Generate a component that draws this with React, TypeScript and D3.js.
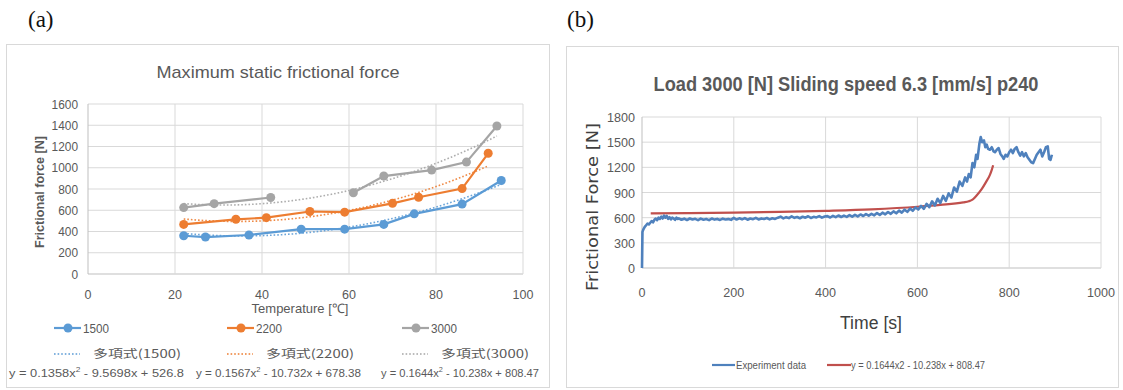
import React, { useEffect, useRef } from "react";
import * as d3 from "d3";

// ---------- panel (a) data ----------
const TEMP_1500 = [22, 27, 37, 49, 59, 68, 75, 86, 95];
const FORCE_1500 = [360, 348, 367, 422, 422, 467, 566, 658, 880];
const TEMP_2200 = [22, 34, 41, 51, 59, 70, 76, 86, 92];
const FORCE_2200 = [467, 515, 530, 588, 582, 665, 722, 804, 1136];
const TEMP_3000 = [22, 29, 42, 51, 61, 68, 79, 87, 94];
const FORCE_3000 = [625, 662, 720, null, 765, 922, 978, 1053, 1393];

// polynomial trendline coefficients as printed [x^2, x, c]
const TREND_1500 = [0.1358, -9.5698, 526.8];
const TREND_2200 = [0.1567, -10.732, 678.38];
const TREND_3000 = [0.1644, -10.238, 808.47];

const LOADS = ["1500", "2200", "3000"];
const EQUATIONS = [
  ["y = 0.1358x", " - 9.5698x + 526.8"],
  ["y = 0.1567x", " - 10.732x + 678.38"],
  ["y = 0.1644x", " - 10.238x + 808.47"],
];
const A_X_TICKS = [0, 20, 40, 60, 80, 100];
const A_Y_TICKS = [0, 200, 400, 600, 800, 1000, 1200, 1400, 1600];

// ---------- panel (b) data ----------
const EXP_TIME = [
  0, 1, 3, 6, 9, 12, 15, 18, 21, 24, 27, 30, 33, 36, 39, 42, 45, 48, 51, 54, 57, 60, 63, 66, 69, 72, 75, 78,
  80, 86, 92, 98, 104, 110, 116, 122, 128, 134, 140, 146, 152, 158, 164, 170, 176, 182, 188, 194,
  200, 206, 212, 218, 224, 230, 236, 242, 248, 254, 260, 266, 272, 278, 284, 290, 296,
  302, 308, 314, 320, 326, 332, 338, 344, 350, 356, 362, 368, 374, 380, 386, 392, 398,
  404, 410, 416, 422, 428, 434, 440, 446, 452, 458, 464, 470, 476, 482, 488, 494, 500,
  506, 512, 518, 524, 530, 536, 542, 548, 554, 560, 566, 572, 578, 584, 590, 596, 602,
  608, 614, 620, 626, 632, 638, 644, 650, 656, 662, 668, 674, 680, 686, 692, 698, 704,
  708, 712, 716, 720, 724, 728, 731, 735, 738, 741, 745, 748, 751, 754, 758, 762, 766, 769, 773, 777,
  781, 785, 788, 792, 796, 800, 804, 808, 812, 816, 820, 824, 828, 832, 836, 840, 844, 848, 852, 856,
  860, 864, 868, 872, 876, 880, 884, 887, 890, 893,
];
const EXP_FORCE = [
  0, 430, 460, 490, 510, 530, 520, 540, 560, 545, 575, 590, 570, 600, 585, 612, 590, 625, 600, 620, 585, 605, 580, 600, 590, 575, 600, 585,
  592, 575, 588, 572, 590, 578, 586, 570, 589, 576, 584, 571, 590, 577, 585, 573, 588, 579, 583, 574,
  597, 578, 592, 580, 595, 576, 590, 582, 598, 579, 591, 584, 596, 580, 593, 585, 600,
  612, 592, 606, 595, 615, 598, 608, 593, 611, 600, 617, 596, 610, 603, 618, 600, 614,
  618, 602, 622, 606, 626, 608, 624, 610, 630, 612, 634, 616, 638, 620, 642, 624, 645,
  628, 655, 633, 660, 640, 668, 646, 675, 652, 684, 660, 695, 670, 708, 682, 722, 698,
  740, 705, 765, 725, 795, 745, 825, 775, 860, 800, 890, 840, 960, 910, 1030, 980, 1080,
  1030, 1120, 1080, 1250, 1200, 1350, 1300, 1480, 1560, 1500, 1520, 1440, 1470, 1420, 1410, 1440, 1390, 1380, 1410, 1430,
  1360, 1330, 1300, 1350, 1330, 1380, 1410, 1370, 1420, 1440, 1380, 1340, 1380, 1330, 1370, 1320, 1290, 1260, 1250, 1300,
  1350, 1380, 1410, 1330, 1380, 1440, 1450, 1300, 1290, 1350,
];
const FIT_TIME = [19, 100, 200, 300, 400, 500, 600, 650, 700, 712, 720, 729, 740, 750, 758, 762, 765];
const FIT_FORCE = [652, 655, 660, 668, 682, 700, 730, 752, 782, 795, 815, 865, 940, 1030, 1110, 1170, 1225];
const B_X_TICKS = [0, 200, 400, 600, 800, 1000];
const B_Y_TICKS = [0, 300, 600, 900, 1200, 1500, 1800];

const COLORS = ["#5b9bd5", "#ed7d31", "#a5a5a5"];
const TXT = "#595959";
const GRID = "#d9d9d9";
const FONT = "'Liberation Sans', Arial, sans-serif";

export default function App() {
  const ref = useRef(null);

  useEffect(() => {
    const svg = d3.select(ref.current);
    svg.selectAll("*").remove();

    // ==========================
    // PANEL (a)
    // ==========================
    const gA = svg.append("g");
    gA.append("text").attr("x", 28).attr("y", 27)
      .attr("font-family", "'Liberation Serif', serif").attr("font-size", 23)
      .attr("fill", "#111").text("(a)");
    gA.append("rect").attr("x", 6.5).attr("y", 44.5).attr("width", 543).attr("height", 343)
      .attr("fill", "#fff").attr("stroke", GRID);

    const xA = d3.scaleLinear().domain([0, 100]).range([88, 523]);
    const yA = d3.scaleLinear().domain([0, 1600]).range([274, 104]);

    gA.append("text").attr("x", 278).attr("y", 78).attr("text-anchor", "middle")
      .attr("font-family", FONT).attr("font-size", 17).attr("fill", TXT)
      .attr("textLength", 243).attr("lengthAdjust", "spacingAndGlyphs")
      .text("Maximum static frictional force");

    A_Y_TICKS.forEach(t => {
      gA.append("line").attr("x1", xA(0)).attr("x2", xA(100))
        .attr("y1", yA(t)).attr("y2", yA(t))
        .attr("stroke", t === 0 ? "#bfbfbf" : GRID);
      gA.append("text").attr("x", 78).attr("y", yA(t) + 4.5).attr("text-anchor", "end")
        .attr("font-family", FONT).attr("font-size", 12).attr("fill", TXT)
        .attr("textLength", String(t).length * 6.6).attr("lengthAdjust", "spacingAndGlyphs").text(t);
    });
    A_X_TICKS.forEach(t => {
      gA.append("line").attr("x1", xA(t)).attr("x2", xA(t))
        .attr("y1", yA(0)).attr("y2", yA(1600))
        .attr("stroke", t === 0 ? "#bfbfbf" : GRID);
      gA.append("text").attr("x", xA(t)).attr("y", 299).attr("text-anchor", "middle")
        .attr("font-family", FONT).attr("font-size", 12.5).attr("fill", TXT).text(t);
    });

    gA.append("text").attr("x", 300).attr("y", 313).attr("text-anchor", "middle")
      .attr("font-family", FONT).attr("font-size", 13).attr("fill", TXT)
      .text("Temperature [℃]");
    gA.append("text").attr("transform", "translate(44,192) rotate(-90)").attr("text-anchor", "middle")
      .attr("font-family", FONT).attr("font-size", 12.5).attr("font-weight", "bold").attr("fill", TXT)
      .attr("textLength", 112).attr("lengthAdjust", "spacingAndGlyphs")
      .text("Frictional force [N]");

    const seriesA = [
      { t: TEMP_1500, f: FORCE_1500, c: TREND_1500 },
      { t: TEMP_2200, f: FORCE_2200, c: TREND_2200 },
      { t: TEMP_3000, f: FORCE_3000, c: TREND_3000 },
    ];

    // trendlines
    seriesA.forEach((s, i) => {
      const [a, b, c] = s.c;
      const lo = d3.min(s.t), hi = d3.max(s.t);
      const pts = d3.range(lo, hi + 0.01, 0.5).map(x => [x, a * x * x + b * x + c]);
      gA.append("path")
        .attr("d", d3.line().x(d => xA(d[0])).y(d => yA(d[1]))(pts))
        .attr("fill", "none").attr("stroke", COLORS[i]).attr("stroke-width", 1.6)
        .attr("stroke-dasharray", "1.6 2").attr("opacity", 0.9);
    });

    // data lines + markers
    seriesA.forEach((s, i) => {
      const pts = s.t.map((x, k) => ({ x, y: s.f[k] }));
      gA.append("path")
        .attr("d", d3.line().defined(d => d.y != null).x(d => xA(d.x)).y(d => yA(d.y))(pts))
        .attr("fill", "none").attr("stroke", COLORS[i]).attr("stroke-width", 2.2);
      gA.selectAll(null).data(pts.filter(d => d.y != null)).enter().append("circle")
        .attr("cx", d => xA(d.x)).attr("cy", d => yA(d.y)).attr("r", 4.5)
        .attr("fill", COLORS[i]);
    });

    // legend (a)
    const legX = [54, 227, 402];
    LOADS.forEach((name, i) => {
      const x0 = legX[i];
      gA.append("line").attr("x1", x0).attr("x2", x0 + 27).attr("y1", 328).attr("y2", 328)
        .attr("stroke", COLORS[i]).attr("stroke-width", 2.2);
      gA.append("circle").attr("cx", x0 + 14).attr("cy", 328).attr("r", 4.5).attr("fill", COLORS[i]);
      gA.append("text").attr("x", x0 + 29).attr("y", 332.5)
        .attr("font-family", FONT).attr("font-size", 12.5).attr("fill", TXT)
        .attr("textLength", 26).attr("lengthAdjust", "spacingAndGlyphs").text(name);

      gA.append("line").attr("x1", x0).attr("x2", x0 + 26).attr("y1", 354).attr("y2", 354)
        .attr("stroke", COLORS[i]).attr("stroke-width", 1.6).attr("stroke-dasharray", "1.6 2");
      gA.append("text").attr("x", x0 + 39).attr("y", 357.5)
        .attr("font-family", "'Noto Sans CJK JP', sans-serif").attr("font-size", 11.5).attr("fill", TXT)
        .attr("textLength", 88).attr("lengthAdjust", "spacingAndGlyphs")
        .text(`多項式(${name})`);
    });
    const eqX = [9, 196, 381];
    const eqW = [175, 165, 158];
    EQUATIONS.forEach((eq, i) => {
      const t = gA.append("text").attr("x", eqX[i]).attr("y", 376.5)
        .attr("font-family", FONT).attr("font-size", 11.5).attr("fill", TXT)
        .attr("textLength", eqW[i]).attr("lengthAdjust", "spacingAndGlyphs");
      t.append("tspan").text(eq[0]);
      t.append("tspan").attr("dy", -4.5).attr("font-size", 7.5).text("2");
      t.append("tspan").attr("dy", 4.5).text(eq[1]);
    });

    // ==========================
    // PANEL (b)
    // ==========================
    const gB = svg.append("g");
    gB.append("text").attr("x", 567).attr("y", 27)
      .attr("font-family", "'Liberation Serif', serif").attr("font-size", 23)
      .attr("fill", "#111").text("(b)");
    gB.append("rect").attr("x", 566.5).attr("y", 46.5).attr("width", 552).attr("height", 341)
      .attr("fill", "#fff").attr("stroke", GRID);

    const xB = d3.scaleLinear().domain([0, 1000]).range([642, 1101]);
    const yB = d3.scaleLinear().domain([0, 1800]).range([268, 117]);

    gB.append("text").attr("x", 846).attr("y", 91).attr("text-anchor", "middle")
      .attr("font-family", FONT).attr("font-size", 20).attr("font-weight", "bold").attr("fill", TXT)
      .attr("textLength", 385).attr("lengthAdjust", "spacingAndGlyphs")
      .text("Load 3000 [N] Sliding speed 6.3 [mm/s] p240");

    B_Y_TICKS.forEach(t => {
      gB.append("line").attr("x1", xB(0)).attr("x2", xB(1000))
        .attr("y1", yB(t)).attr("y2", yB(t))
        .attr("stroke", t === 0 ? "#bfbfbf" : GRID);
      gB.append("text").attr("x", 635).attr("y", yB(t) + 5).attr("text-anchor", "end")
        .attr("font-family", FONT).attr("font-size", 13.5).attr("fill", TXT)
        .attr("textLength", String(t).length * 7).attr("lengthAdjust", "spacingAndGlyphs").text(t);
    });
    B_X_TICKS.forEach(t => {
      gB.append("line").attr("x1", xB(t)).attr("x2", xB(t))
        .attr("y1", yB(0)).attr("y2", yB(1800))
        .attr("stroke", t === 0 ? "#bfbfbf" : GRID);
      gB.append("text").attr("x", xB(t)).attr("y", 297).attr("text-anchor", "middle")
        .attr("font-family", FONT).attr("font-size", 13.5).attr("fill", TXT)
        .attr("textLength", String(t).length * 7).attr("lengthAdjust", "spacingAndGlyphs").text(t);
    });

    gB.append("text").attr("x", 871).attr("y", 329).attr("text-anchor", "middle")
      .attr("font-family", FONT).attr("font-size", 18).attr("fill", "#404040")
      .attr("textLength", 62).attr("lengthAdjust", "spacingAndGlyphs")
      .text("Time [s]");
    gB.append("text").attr("transform", "translate(598,207) rotate(-90)").attr("text-anchor", "middle")
      .attr("font-family", "'DejaVu Sans', sans-serif").attr("font-size", 15).attr("fill", "#404040")
      .attr("textLength", 168).attr("lengthAdjust", "spacingAndGlyphs")
      .text("Frictional Force [N]");

    const expPts = EXP_TIME.map((t, k) => [t, EXP_FORCE[k]]);
    const fitPts = FIT_TIME.map((t, k) => [t, FIT_FORCE[k]]);
    const lineB = d3.line().x(d => xB(d[0])).y(d => yB(d[1]));

    gB.append("path").attr("d", d3.line().x(d => xB(d[0])).y(d => yB(d[1])).curve(d3.curveMonotoneX)(fitPts))
      .attr("fill", "none").attr("stroke", "#c0504d").attr("stroke-width", 2.2);
    gB.append("path").attr("d", lineB(expPts))
      .attr("fill", "none").attr("stroke", "#4f81bd").attr("stroke-width", 2.6)
      .attr("stroke-linejoin", "round");

    // legend (b)
    gB.append("line").attr("x1", 712).attr("x2", 735).attr("y1", 365).attr("y2", 365)
      .attr("stroke", "#4f81bd").attr("stroke-width", 2.2);
    gB.append("text").attr("x", 736).attr("y", 369)
      .attr("font-family", FONT).attr("font-size", 11).attr("fill", TXT)
      .attr("textLength", 70).attr("lengthAdjust", "spacingAndGlyphs")
      .text("Experiment data");
    gB.append("line").attr("x1", 827).attr("x2", 851).attr("y1", 365).attr("y2", 365)
      .attr("stroke", "#c0504d").attr("stroke-width", 2.2);
    gB.append("text").attr("x", 851).attr("y", 369)
      .attr("font-family", FONT).attr("font-size", 11).attr("fill", TXT)
      .attr("textLength", 134).attr("lengthAdjust", "spacingAndGlyphs")
      .text("y = 0.1644x2 - 10.238x + 808.47");
  }, []);

  return (
    <svg ref={ref} width={1123} height={390}
      style={{ position: "absolute", left: 0, top: 0, background: "#fff" }} />
  );
}
